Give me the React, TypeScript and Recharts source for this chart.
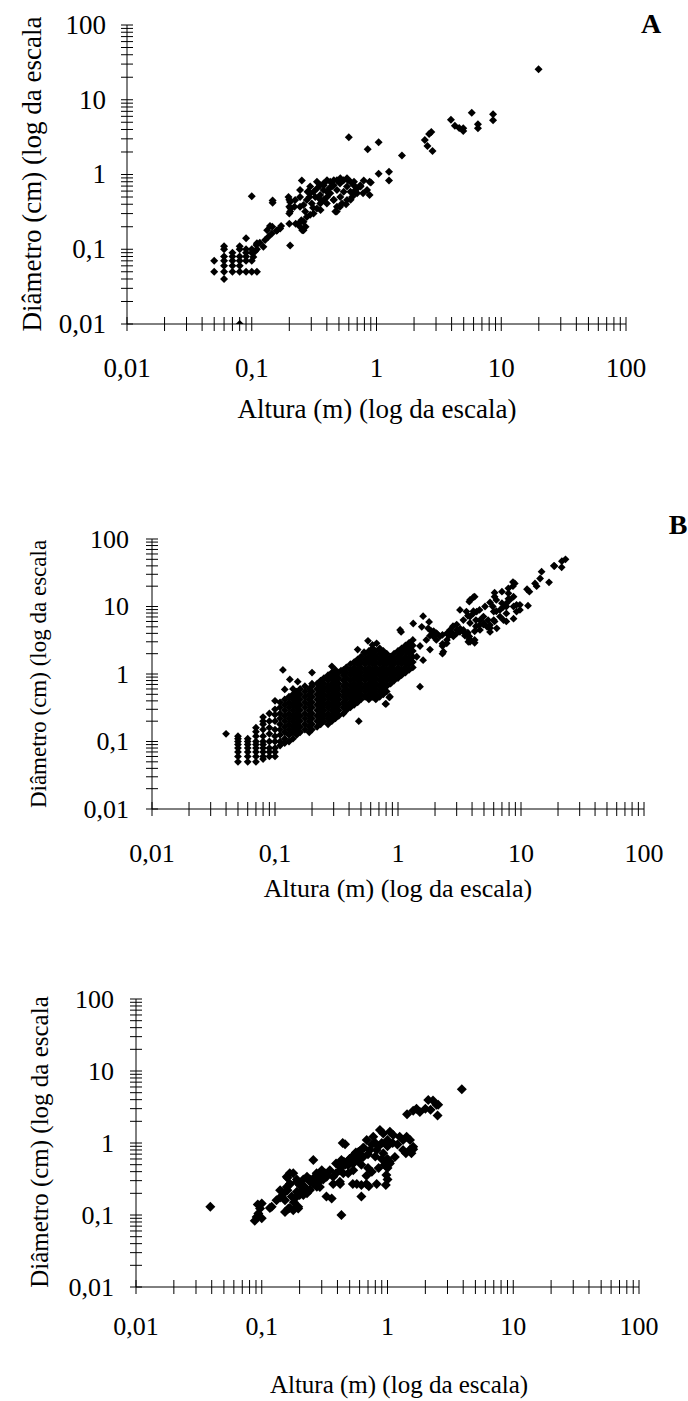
import React from 'react';
import { ScatterChart, Scatter, XAxis, YAxis } from 'recharts';

const majorTicks = [0.01, 0.1, 1, 10, 100];
const majorLabels = ['0,01', '0,1', '1', '10', '100'];
const minorTicks = [
  0.02, 0.03, 0.04, 0.05, 0.06, 0.07, 0.08, 0.09,
  0.2, 0.3, 0.4, 0.5, 0.6, 0.7, 0.8, 0.9,
  2, 3, 4, 5, 6, 7, 8, 9,
  20, 30, 40, 50, 60, 70, 80, 90,
];
const allTicks = [...majorTicks, ...minorTicks].sort((a, b) => a - b);

const tituloX = 'Altura (m) (log da escala)';
const tituloY = 'Diâmetro (cm) (log da escala';

// [altura (m), diâmetro (cm)]
const pontosA: [number, number][] = [
  [0.05, 0.07], [0.05, 0.05],
  [0.06, 0.11], [0.06, 0.1], [0.06, 0.08], [0.06, 0.07], [0.06, 0.06], [0.06, 0.05], [0.06, 0.04],
  [0.07, 0.09], [0.07, 0.08], [0.07, 0.07], [0.07, 0.06], [0.07, 0.05],
  [0.08, 0.11], [0.08, 0.1], [0.08, 0.08], [0.08, 0.07], [0.08, 0.06], [0.08, 0.05], [0.08, 0.01],
  [0.09, 0.14], [0.09, 0.1], [0.09, 0.09], [0.09, 0.08], [0.09, 0.07], [0.09, 0.05],
  [0.1, 0.1], [0.1, 0.09], [0.1, 0.07], [0.1, 0.05], [0.1, 0.51],
  [0.11, 0.12], [0.11, 0.1], [0.11, 0.05],
  [0.116, 0.122], [0.128, 0.133], [0.136, 0.147], [0.145, 0.163], [0.158, 0.177], [0.169, 0.19],
  [0.14, 0.204], [0.172, 0.204], [0.106, 0.093], [0.109, 0.114], [0.124, 0.108], [0.103, 0.079],
  [0.146, 0.2], [0.133, 0.18], [0.16, 0.18], [0.147, 0.42], [0.147, 0.45], [0.203, 0.112],
  [0.252, 0.83], [0.244, 0.62], [0.197, 0.5], [0.203, 0.43], [0.2, 0.37], [0.203, 0.32], [0.22, 0.37], [0.2, 0.46],
  [0.244, 0.37], [0.26, 0.39], [0.276, 0.455], [0.294, 0.56], [0.313, 0.59], [0.333, 0.65], [0.354, 0.72],
  [0.376, 0.76], [0.401, 0.84], [0.426, 0.8], [0.453, 0.72], [0.482, 0.84], [0.513, 0.89], [0.546, 0.84],
  [0.58, 0.89], [0.618, 0.8], [0.657, 0.72], [0.699, 0.65], [0.743, 0.72], [0.699, 0.56], [0.637, 0.5],
  [0.58, 0.455], [0.529, 0.41], [0.482, 0.37], [0.468, 0.32], [0.513, 0.5], [0.426, 0.56], [0.401, 0.5],
  [0.376, 0.455], [0.354, 0.41], [0.333, 0.35], [0.313, 0.3], [0.294, 0.29], [0.276, 0.27], [0.26, 0.233],
  [0.244, 0.2], [0.26, 0.18], [0.237, 0.22], [0.285, 0.59], [0.323, 0.5], [0.44, 0.69], [0.546, 0.59],
  [0.618, 0.59], [0.401, 0.59], [0.354, 0.53], [0.453, 0.455], [0.333, 0.8], [0.294, 0.69], [0.268, 0.32],
  [0.303, 0.41], [0.376, 0.62], [0.482, 0.62], [0.58, 0.69], [0.657, 0.59], [0.244, 0.5], [0.223, 0.455],
  [0.254, 0.18], [0.27, 0.2], [0.25, 0.245], [0.225, 0.22], [0.2, 0.22], [0.205, 0.35], [0.2, 0.3],
  [0.28, 0.59], [0.29, 0.5], [0.59, 0.84], [0.66, 0.8], [0.745, 0.69], [0.68, 0.56], [0.62, 0.46],
  [0.51, 0.37], [0.48, 0.32], [0.455, 0.46], [0.4, 0.41], [0.356, 0.335], [0.378, 0.72], [0.455, 0.84],
  [0.51, 0.76], [0.84, 0.62], [0.78, 0.56], [0.57, 0.4], [0.42, 0.66], [0.35, 0.47], [0.31, 0.36],
  [0.79, 0.83], [0.9, 0.78], [0.88, 0.53], [0.88, 0.8], [1.26, 0.83], [1.04, 1.02], [1.26, 1.09],
  [0.6, 3.15], [0.85, 2.17], [1.04, 2.7], [1.6, 1.8], [2.81, 2.06], [2.56, 2.41], [2.44, 2.9],
  [2.64, 3.49], [2.75, 3.7], [4.96, 3.83], [4.96, 4.15], [4.6, 4.2], [4.25, 4.5], [3.95, 5.4],
  [6.5, 4.15], [6.5, 4.7], [5.8, 6.7], [8.6, 5.3], [8.6, 6.4], [19.9, 25.6],
];

// painel B: grade inferior e pontos dispersos
const pontosB: [number, number][] = [
  [0.04, 0.13],
  [0.05, 0.05], [0.05, 0.06], [0.05, 0.07], [0.05, 0.08], [0.05, 0.09], [0.05, 0.1], [0.05, 0.11], [0.05, 0.12],
  [0.06, 0.05], [0.06, 0.06], [0.06, 0.07], [0.06, 0.08], [0.06, 0.09], [0.06, 0.1], [0.06, 0.11],
  [0.07, 0.05], [0.07, 0.06], [0.07, 0.07], [0.07, 0.08], [0.07, 0.09], [0.07, 0.1], [0.07, 0.12], [0.07, 0.14], [0.07, 0.16],
  [0.08, 0.055], [0.08, 0.06], [0.08, 0.07], [0.08, 0.08], [0.08, 0.09], [0.08, 0.1], [0.08, 0.12], [0.08, 0.15],
  [0.08, 0.18], [0.08, 0.2], [0.08, 0.23],
  [0.09, 0.06], [0.09, 0.07], [0.09, 0.08], [0.09, 0.1], [0.09, 0.13], [0.09, 0.16], [0.09, 0.2], [0.09, 0.26],
  [0.1, 0.06], [0.1, 0.07], [0.1, 0.08], [0.1, 0.1], [0.1, 0.12], [0.1, 0.15], [0.1, 0.2], [0.1, 0.25], [0.1, 0.3], [0.1, 0.4],
  [0.12, 0.59], [0.116, 1.15], [0.132, 0.83], [0.153, 0.77], [0.2, 1.05], [0.2, 0.72], [0.29, 1.3], [0.344, 1.12],
  [0.48, 0.2], [0.53, 2.1], [0.57, 3.1], [0.67, 2.85], [0.62, 2.7],
  [0.47, 2.3], [0.79, 0.36], [0.85, 0.45], [1.06, 4.2], [1.33, 5.6], [1.51, 0.65], [0.86, 0.46], [0.8, 0.36],
  [1.6, 7.2], [1.04, 4.5], [1.79, 5.9], [1.87, 4.3], [1.82, 3.7], [1.51, 2.6], [1.7, 3.2], [2.05, 4.0],
  [2.19, 3.6], [1.42, 1.8], [1.6, 1.6], [1.82, 2.3], [1.56, 5.0], [1.76, 4.75], [1.94, 3.6], [2.06, 4.0],
  [2.3, 2.8], [2.3, 2.6], [2.3, 2.0], [2.34, 2.14], [2.49, 2.85], [2.5, 3.2], [2.6, 3.7], [2.65, 4.2], [2.7, 4.2],
  [2.82, 3.6], [3.0, 4.0], [3.0, 4.5], [3.19, 4.2], [3.2, 4.7], [3.4, 4.5], [3.5, 3.7], [3.5, 4.0], [3.7, 4.1],
  [3.8, 3.3], [3.85, 3.0], [3.73, 3.0], [3.8, 3.6], [4.2, 3.2], [4.2, 2.9],
  [3.19, 8.9], [3.6, 8.4], [3.7, 7.3], [3.4, 6.3], [3.85, 5.7], [4.3, 5.1], [4.2, 4.3], [4.64, 4.5], [4.95, 5.4],
  [5.4, 6.3], [4.95, 7.1], [3.0, 5.4], [2.8, 5.1], [2.65, 4.5], [2.5, 4.0], [2.3, 3.8], [2.05, 3.2], [1.95, 4.3],
  [4.6, 5.3], [4.3, 6.3], [4.1, 8.5], [3.85, 7.1], [4.1, 7.9], [4.36, 8.4], [4.6, 8.9], [5.1, 10], [5.9, 10],
  [6.3, 8.5], [7.6, 10], [8.7, 10], [9.8, 10.6], [9.2, 8.4], [7.6, 7.9], [6.75, 7.1], [7.2, 6.3], [6.1, 6.0],
  [5.6, 4.8], [8.7, 6.6], [7.6, 6.0], [6.3, 12.5], [5.6, 11.5], [7.0, 11.2], [7.9, 13], [11.4, 10.3],
  [4.64, 6.3], [5.0, 5.65], [5.3, 5.0], [5.6, 5.3], [6.0, 6.3], [5.6, 4.2], [6.35, 4.75], [6.0, 8.4], [6.75, 8.9],
  [7.2, 9.9], [7.6, 11.1], [8.1, 12.5], [8.7, 14], [9.2, 10.6], [9.8, 8.9], [3.85, 12.5], [4.2, 14],
  [23, 50], [21.5, 47], [18.5, 40], [21.4, 38], [18.7, 39.8], [14.7, 32.8], [14.3, 26], [16.9, 22.8], [13, 22],
  [13.4, 20], [11.2, 18], [11.7, 16.6], [8.9, 22], [8.6, 20], [8.6, 23], [7.9, 18.6], [7.9, 15.7], [7.0, 16.6],
  [6.1, 16], [6.1, 14], [4.1, 13.7], [3.8, 11.8],
];

// painel B: núcleo denso, por altura -> diâmetros lidos
const colunasB: [number, number[]][] = [
  [0.11, [0.087, 0.1, 0.125, 0.15, 0.18, 0.22, 0.26, 0.32, 0.38]],
  [0.12, [0.095, 0.11, 0.137, 0.165, 0.2, 0.24, 0.29, 0.35, 0.42]],
  [0.13, [0.1, 0.125, 0.15, 0.18, 0.22, 0.26, 0.32, 0.38, 0.46]],
  [0.14, [0.11, 0.137, 0.165, 0.2, 0.24, 0.29, 0.35, 0.42, 0.5, 0.6]],
  [0.15, [0.125, 0.15, 0.18, 0.22, 0.26, 0.32, 0.38, 0.46, 0.55]],
  [0.16, [0.137, 0.165, 0.2, 0.24, 0.29, 0.35, 0.42, 0.5, 0.6]],
  [0.175, [0.15, 0.18, 0.22, 0.26, 0.32, 0.38, 0.46, 0.55, 0.66]],
  [0.19, [0.137, 0.165, 0.2, 0.24, 0.29, 0.35, 0.42, 0.5, 0.6]],
  [0.2, [0.15, 0.18, 0.22, 0.26, 0.32, 0.38, 0.46, 0.55, 0.66]],
  [0.22, [0.165, 0.2, 0.24, 0.29, 0.35, 0.42, 0.5, 0.6, 0.72]],
  [0.235, [0.18, 0.22, 0.26, 0.32, 0.38, 0.46, 0.55, 0.66, 0.8]],
  [0.25, [0.2, 0.24, 0.29, 0.35, 0.42, 0.5, 0.6, 0.72, 0.87]],
  [0.27, [0.18, 0.22, 0.26, 0.32, 0.38, 0.46, 0.55, 0.66, 0.8, 0.96]],
  [0.29, [0.2, 0.24, 0.29, 0.35, 0.42, 0.5, 0.6, 0.72, 0.87, 1.05]],
  [0.31, [0.22, 0.26, 0.32, 0.38, 0.46, 0.55, 0.66, 0.8, 0.96, 1.15]],
  [0.33, [0.24, 0.29, 0.35, 0.42, 0.5, 0.6, 0.72, 0.87, 1.05]],
  [0.36, [0.26, 0.32, 0.38, 0.46, 0.55, 0.66, 0.8, 0.96, 1.15]],
  [0.38, [0.29, 0.35, 0.42, 0.5, 0.6, 0.72, 0.87, 1.05, 1.25]],
  [0.41, [0.32, 0.38, 0.46, 0.55, 0.66, 0.8, 0.96, 1.15, 1.4]],
  [0.44, [0.35, 0.42, 0.5, 0.6, 0.72, 0.87, 1.05, 1.25, 1.5]],
  [0.47, [0.38, 0.46, 0.55, 0.66, 0.8, 0.96, 1.15, 1.4, 1.65]],
  [0.5, [0.42, 0.5, 0.6, 0.72, 0.87, 1.05, 1.25, 1.5, 1.8]],
  [0.54, [0.46, 0.55, 0.66, 0.8, 0.96, 1.15, 1.4, 1.65, 2.0]],
  [0.58, [0.42, 0.5, 0.6, 0.72, 0.87, 1.05, 1.25, 1.5, 1.8, 2.2]],
  [0.62, [0.46, 0.55, 0.66, 0.8, 0.96, 1.15, 1.4, 1.65, 2.0, 2.4]],
  [0.66, [0.42, 0.5, 0.6, 0.72, 0.87, 1.05, 1.25, 1.5, 1.8, 2.2]],
  [0.71, [0.46, 0.55, 0.66, 0.8, 0.96, 1.15, 1.4, 1.65, 2.0, 2.4]],
  [0.76, [0.5, 0.6, 0.72, 0.87, 1.05, 1.25, 1.5, 1.8, 2.2]],
  [0.81, [0.55, 0.66, 0.8, 0.96, 1.15, 1.4, 1.65, 2.0]],
  [0.87, [0.72, 0.87, 1.05, 1.25, 1.5, 1.8]],
  [0.93, [0.8, 0.96, 1.15, 1.4, 1.65, 2.0]],
  [1.0, [0.87, 1.05, 1.25, 1.5, 1.8, 2.2]],
  [1.07, [0.96, 1.15, 1.4, 1.65, 2.0, 2.4]],
  [1.15, [1.05, 1.25, 1.5, 1.8, 2.2, 2.65]],
  [1.23, [1.15, 1.4, 1.65, 2.0, 2.4, 2.9]],
  [1.32, [1.25, 1.5, 1.8, 2.2, 2.65, 3.2]],
];

const pontosC: [number, number][] = [
  [0.039, 0.13],
  [0.088, 0.083], [0.091, 0.094], [0.094, 0.105], [0.097, 0.123], [0.1, 0.145], [0.1, 0.09], [0.093, 0.14],
  [0.116, 0.125], [0.12, 0.13], [0.131, 0.16], [0.144, 0.18], [0.14, 0.175], [0.15, 0.2], [0.16, 0.22],
  [0.167, 0.27], [0.153, 0.11], [0.163, 0.123], [0.178, 0.116], [0.195, 0.123], [0.167, 0.125], [0.195, 0.13],
  [0.18, 0.15], [0.158, 0.34], [0.178, 0.38], [0.167, 0.38], [0.16, 0.33],
  [0.19, 0.31], [0.2, 0.27], [0.214, 0.31], [0.229, 0.34], [0.242, 0.31], [0.257, 0.27], [0.274, 0.31],
  [0.29, 0.34], [0.308, 0.31], [0.327, 0.36], [0.274, 0.247], [0.242, 0.222], [0.229, 0.2], [0.214, 0.19],
  [0.19, 0.21], [0.2, 0.19], [0.158, 0.245], [0.168, 0.27], [0.19, 0.29], [0.2, 0.26], [0.19, 0.18],
  [0.214, 0.22], [0.228, 0.21], [0.25, 0.3], [0.257, 0.58],
  [0.14, 0.22], [0.153, 0.16], [0.173, 0.18], [0.2, 0.2], [0.22, 0.245], [0.242, 0.29], [0.265, 0.34],
  [0.29, 0.3], [0.318, 0.38], [0.348, 0.42], [0.39, 0.38], [0.29, 0.245],
  [0.273, 0.38], [0.3, 0.42], [0.328, 0.34], [0.37, 0.27], [0.418, 0.29], [0.445, 0.38], [0.43, 0.47],
  [0.487, 0.38], [0.534, 0.42],
  [0.327, 0.18], [0.36, 0.17], [0.43, 0.1],
  [0.37, 0.34], [0.418, 0.42], [0.39, 0.52], [0.43, 0.58], [0.46, 0.5], [0.5, 0.6], [0.53, 0.66], [0.56, 0.74],
  [0.6, 0.77], [0.64, 0.86], [0.44, 1.0], [0.46, 0.96], [0.585, 0.75],
  [0.42, 0.27], [0.53, 0.27], [0.57, 0.27], [0.62, 0.26], [0.68, 0.27], [0.71, 0.25], [0.82, 0.27], [0.97, 0.26],
  [0.98, 0.36], [1.0, 0.31], [0.62, 0.18],
  [0.683, 1.1], [0.77, 1.22], [0.925, 1.36], [1.045, 1.43], [1.11, 1.29], [1.25, 1.22], [1.33, 1.1], [1.42, 1.22],
  [1.51, 1.1], [1.6, 0.885], [1.55, 0.72], [1.33, 0.8], [1.145, 0.64], [1.045, 0.52], [0.984, 0.58], [0.925, 0.72],
  [0.819, 0.8], [0.725, 0.8], [0.641, 0.64], [0.585, 0.58], [0.534, 0.52], [0.487, 0.49], [0.418, 0.47],
  [0.871, 1.51], [0.8, 1.0], [0.9, 1.0], [1.0, 1.1], [1.0, 0.9], [0.85, 0.9], [0.75, 0.95], [0.7, 0.7],
  [0.8, 0.65], [0.9, 0.6], [1.1, 1.0], [1.2, 0.95], [0.65, 0.85], [0.6, 0.7], [0.55, 0.6], [0.5, 0.6],
  [0.45, 0.55], [0.62, 0.5], [0.7, 0.45], [0.75, 0.4], [0.68, 0.35], [0.85, 0.45], [0.95, 0.5], [1.0, 0.6],
  [1.5, 0.8], [1.6, 0.82], [1.4, 0.72], [0.97, 0.5], [1.04, 0.55], [1.0, 0.45],
  [1.43, 2.5], [1.6, 2.8], [1.7, 3.0], [2.0, 3.0], [2.3, 3.9], [2.45, 3.4], [2.2, 2.9], [2.5, 2.4],
  [2.11, 3.95], [2.53, 3.4], [1.81, 2.7], [3.9, 5.6],
];

const FONT = '"Liberation Serif", "Times New Roman", serif';

const rotulo = (v: number) => {
  const i = majorTicks.indexOf(v);
  return i >= 0 ? majorLabels[i] : null;
};

const XTick = ({ x, y, payload, fs, dy }: any) => {
  const lab = rotulo(payload.value);
  return (
    <g>
      <line x1={x} x2={x} y1={y - 7} y2={y + 7} stroke="#000" strokeWidth={1} />
      {lab && (
        <text x={x} y={y + dy} textAnchor="middle" fontSize={fs} fontFamily={FONT} fill="#000">
          {lab}
        </text>
      )}
    </g>
  );
};

const YTick = ({ x, y, payload, fs, gap }: any) => {
  const lab = rotulo(payload.value);
  return (
    <g>
      <line x1={x - 6} x2={x + 6} y1={y} y2={y} stroke="#000" strokeWidth={1} />
      {lab && (
        <text x={x - gap} y={y + fs * 0.33} textAnchor="end" fontSize={fs} fontFamily={FONT} fill="#000">
          {lab}
        </text>
      )}
    </g>
  );
};

const diamante = (h: number) => (props: any) => {
  const { cx, cy } = props;
  return <path d={`M${cx},${cy - h}L${cx + h},${cy}L${cx},${cy + h}L${cx - h},${cy}Z`} fill="#000" />;
};

type PainelProps = {
  top: number;
  height: number;
  left: number;
  right: number;
  plotTop: number;
  plotBottom: number;
  pontos: [number, number][];
  half: number;
  fs: number;
  dy: number;
  gap: number;
};

const Painel = ({ top, height, left, right, plotTop, plotBottom, pontos, half, fs, dy, gap }: PainelProps) => {
  const yW = 40;
  const xH = 40;
  const data = pontos.map(([x, y]) => ({ x, y }));
  return (
    <div style={{ position: 'absolute', left: 0, top }}>
      <ScatterChart
        width={688}
        height={height}
        margin={{ top: plotTop, right: 688 - right, bottom: height - plotBottom - xH, left: left - yW }}
      >
        <XAxis
          type="number"
          dataKey="x"
          scale="log"
          domain={[0.01, 100]}
          ticks={allTicks}
          interval={0}
          allowDataOverflow
          height={xH}
          tickSize={0}
          tickMargin={0}
          tickLine={false}
          axisLine={{ stroke: '#000', strokeWidth: 1 }}
          tick={(p: any) => <XTick {...p} fs={fs} dy={dy} />}
        />
        <YAxis
          type="number"
          dataKey="y"
          scale="log"
          domain={[0.01, 100]}
          ticks={allTicks}
          interval={0}
          allowDataOverflow
          width={yW}
          tickSize={0}
          tickMargin={0}
          tickLine={false}
          axisLine={{ stroke: '#000', strokeWidth: 1 }}
          tick={(p: any) => <YTick {...p} fs={fs} gap={gap} />}
        />
        <Scatter data={data} fill="#000" shape={diamante(half)} isAnimationActive={false} />
      </ScatterChart>
    </div>
  );
};

const nucleoB: [number, number][] = colunasB.flatMap(([x, ys]) => ys.map((y) => [x, y] as [number, number]));

export default function App() {
  return (
    <div style={{ position: 'absolute', left: 0, top: 0, width: 688, height: 1401, background: '#fff' }}>
      <Painel top={0} height={440} left={127} right={626} plotTop={25} plotBottom={324}
        pontos={pontosA} half={4} fs={27} dy={53} gap={21} />
      <Painel top={460} height={460} left={152} right={644} plotTop={79} plotBottom={349}
        pontos={[...pontosB, ...nucleoB]} half={3.9} fs={26} dy={53} gap={23} />
      <Painel top={940} height={461} left={136} right={639} plotTop={59} plotBottom={347}
        pontos={pontosC} half={5} fs={26} dy={48} gap={22} />
      <svg width={688} height={1401} style={{ position: 'absolute', left: 0, top: 0, pointerEvents: 'none' }}>
        <g fontFamily={FONT} fill="#000">
          <text x={41} y={174} fontSize={27} textAnchor="middle" transform="rotate(-90 41 174)">{tituloY}</text>
          <text x={377} y={418} fontSize={27} textAnchor="middle">{tituloX}</text>
          <text x={651} y={33} fontSize={28} fontWeight="bold" textAnchor="middle">A</text>

          <text x={46} y={674} fontSize={23} textAnchor="middle" transform="rotate(-90 46 674)">{tituloY}</text>
          <text x={398} y={897} fontSize={26} textAnchor="middle">{tituloX}</text>
          <text x={678} y={534} fontSize={28} fontWeight="bold" textAnchor="middle">B</text>

          <text x={48} y={1142} fontSize={25} textAnchor="middle" transform="rotate(-90 48 1142)">{tituloY}</text>
          <text x={399} y={1393} fontSize={25} textAnchor="middle">{tituloX}</text>
        </g>
      </svg>
    </div>
  );
}
